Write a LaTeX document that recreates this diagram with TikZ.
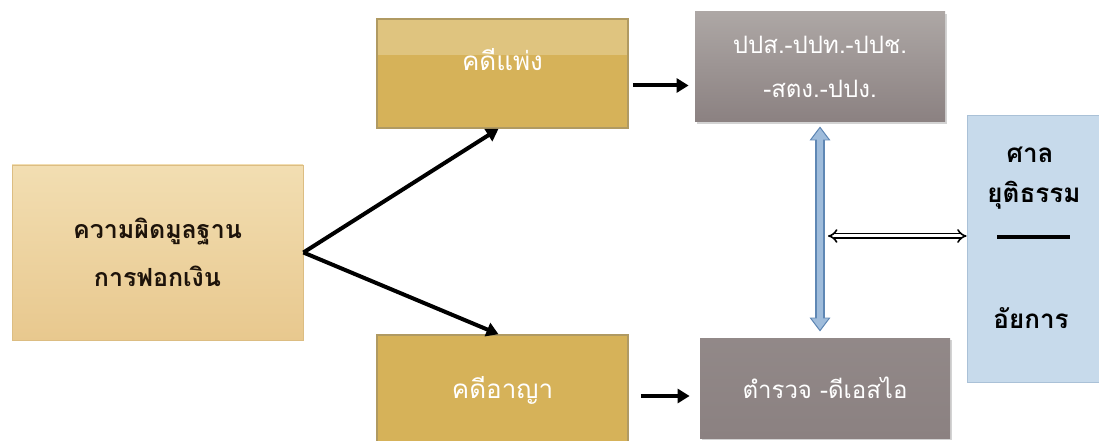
\documentclass[tikz,border=0pt]{standalone}
\usepackage{fontspec}
\newfontfamily\thaifont[Script=Thai]{Loma}
\usetikzlibrary{arrows.meta,shadows}
\definecolor{tanlight}{HTML}{F2DEB2}
\definecolor{tandark}{HTML}{E8C88E}
\definecolor{tanedge}{HTML}{DCBD82}
\definecolor{goldlight}{HTML}{DFC47F}
\definecolor{golddark}{HTML}{D6B259}
\definecolor{goldedge}{HTML}{B09A62}
\definecolor{greylight}{HTML}{ADA7A5}
\definecolor{greydark}{HTML}{8B8181}
\definecolor{bluebox}{HTML}{C7DAEB}
\definecolor{blueedge}{HTML}{AAC1D7}
\definecolor{arrowfill}{HTML}{9FBCDB}
\definecolor{arrowedge}{HTML}{5F87B4}
\tikzset{
  basebox/.style={rectangle,inner sep=0pt,align=center,font=\thaifont\fontsize{12}{22}\selectfont},
  sourcebox/.style={basebox,top color=tanlight,bottom color=tandark,draw=tanedge,font=\thaifont\bfseries\fontsize{12.5}{24}\selectfont,text=black!85!brown},
  casebox/.style={basebox,fill=golddark,draw=goldedge,line width=0.8pt,text=white,font=\thaifont\fontsize{13}{22}\selectfont},
  bandtop/.style={path picture={\fill[goldlight] (path picture bounding box.north west) rectangle ([yshift=-18pt]path picture bounding box.north east);}},
  agencybox/.style={basebox,top color=greylight,bottom color=greydark,text=white,
    drop shadow={shadow xshift=1pt,shadow yshift=-1pt,opacity=0.35}},
  justicetext/.style={basebox,font=\thaifont\bfseries\fontsize{13}{16}\selectfont},
  thickarrow/.style={line width=2pt,-{Triangle[length=6pt,width=7pt]}},
}
\begin{document}
\begin{tikzpicture}[x=0.5pt,y=0.5pt]
\useasboundingbox (0,0) rectangle (1099,440);
% source of the cases
\node[sourcebox,minimum width=145.5pt,minimum height=87.5pt] (source) at (157.5,187.5) {ความผิดมูลฐาน\\การฟอกเงิน};
% civil and criminal cases
\node[casebox,bandtop,minimum width=125.5pt,minimum height=54.5pt] (civil) at (502.5,366.5) {\raisebox{1.5pt}[0pt][0pt]{คดีแพ่ง}};
\node[casebox,minimum width=125.5pt,minimum height=55pt] (criminal) at (502.5,50) {คดีอาญา};
% agencies
\node[agencybox,minimum width=125pt,minimum height=55pt] (agency) at (820,373) {ปปส.-ปปท.-ปปช.\\-สตง.-ปปง.};
\node[agencybox,minimum width=125pt,minimum height=50pt,top color=greydark!80!greylight,bottom color=greydark] (police) at (825,52) {ตำรวจ -ดีเอสไอ};
% court and prosecutor
\node[basebox,fill=bluebox,draw=blueedge,minimum width=69pt,minimum height=133.5pt] (justice) at (1036,191.5) {};
\node[justicetext] (court) at (1030,285) {ศาล};
\node[justicetext] (ministry) at (1034,245) {ยุติธรรม};
\node[justicetext] (prosecutor) at (1031,122) {อัยการ};
\draw[line width=1.6pt] (997,203)--(1070,203);

% arrows from the source
\draw[thickarrow] (source.east) -- ([xshift=-2]civil.south);
\draw[thickarrow] (source.east) -- ([xshift=-2]criminal.north);
\draw[thickarrow,shorten <=2,shorten >=3] ([yshift=-6]civil.east) -- ([yshift=-6]civil.east -| agency.west);
\draw[thickarrow,shorten <=6,shorten >=5] ([yshift=-3]criminal.east) -- ([yshift=-3]criminal.east -| police.west);

% link between the agencies
\draw[line width=5pt,arrowedge,{Triangle[length=7pt,width=10pt]}-{Triangle[length=7pt,width=10pt]},shorten <=2,shorten >=3] (agency.south) -- (agency.south |- police.north);
\draw[line width=3.4pt,arrowfill,{Triangle[length=5.6pt,width=8pt]}-{Triangle[length=5.6pt,width=8pt]},shorten <=3,shorten >=4] (agency.south) -- (agency.south |- police.north);
\coordinate (hub) at (828,204);
\draw[double,double distance=1.5pt,thick,{Implies}-{Implies}] (hub) -- (hub -| justice.west);
\end{tikzpicture}
\end{document}
